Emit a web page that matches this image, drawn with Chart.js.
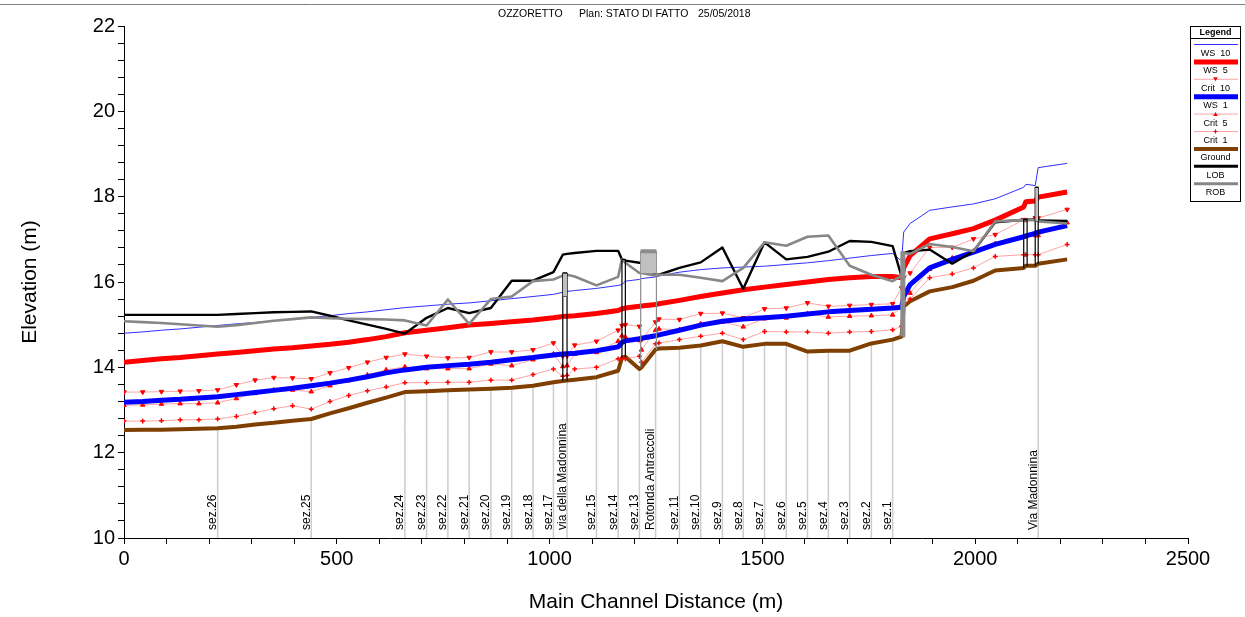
<!DOCTYPE html>
<html><head><meta charset="utf-8">
<script src="https://cdn.jsdelivr.net/npm/chart.js@4.4.0/dist/chart.umd.min.js"></script>
<style>html,body{margin:0;padding:0;background:#fff}canvas{display:block}</style>
</head><body>
<canvas id="c" width="1245" height="617" style="width:1245px;height:617px"></canvas>
<script>
const FONT = 'Arial, "Liberation Sans", Helvetica, sans-serif';

// ---- Data (main channel distance in m, elevations in m) ----
const stations = [0,44,88,132,176,220,264,308,352,396,440,484,528,572,616,660,711,761,811,862,911,961,1009,1031,1041,1059,1110,1161,1170,1178,1211,1216,1249,1257,1305,1355,1406,1455,1505,1556,1606,1655,1705,1756,1806,1827,1832,1847,1893,1946,1996,2047,2114,2119,2141,2148,2216];
const ground = [12.53,12.54,12.54,12.55,12.56,12.57,12.61,12.66,12.70,12.75,12.79,12.92,13.04,13.17,13.29,13.42,13.44,13.46,13.48,13.50,13.52,13.57,13.65,13.68,13.69,13.71,13.77,13.92,14.22,14.25,13.96,14.00,14.42,14.44,14.46,14.51,14.61,14.48,14.55,14.55,14.37,14.39,14.39,14.56,14.65,14.72,15.43,15.55,15.78,15.88,16.03,16.27,16.33,16.38,16.38,16.43,16.53];
const ws1 = [13.18,13.20,13.23,13.25,13.28,13.31,13.36,13.41,13.46,13.51,13.57,13.63,13.70,13.78,13.87,13.94,14.00,14.04,14.07,14.12,14.18,14.23,14.29,14.31,14.32,14.33,14.39,14.48,14.58,14.62,14.67,14.68,14.74,14.76,14.87,14.99,15.08,15.13,15.16,15.20,15.25,15.30,15.33,15.36,15.39,15.41,15.66,15.94,16.33,16.53,16.70,16.88,17.06,17.08,17.14,17.17,17.32];
const ws5 = [14.12,14.16,14.20,14.23,14.27,14.31,14.35,14.39,14.43,14.46,14.50,14.54,14.59,14.65,14.72,14.81,14.87,14.93,14.99,15.03,15.07,15.11,15.16,15.19,15.20,15.21,15.26,15.33,15.37,15.39,15.43,15.44,15.47,15.49,15.57,15.66,15.74,15.82,15.88,15.94,16.00,16.06,16.10,16.13,16.13,16.10,16.33,16.62,17.01,17.13,17.25,17.45,17.76,17.88,17.90,17.99,18.11];
const ws10 = [14.80,14.83,14.87,14.90,14.94,14.98,15.02,15.05,15.09,15.13,15.17,15.21,15.26,15.30,15.35,15.40,15.44,15.48,15.51,15.56,15.61,15.66,15.71,15.76,15.78,15.80,15.85,15.92,15.94,16.02,16.06,16.08,16.12,16.14,16.23,16.29,16.33,16.35,16.37,16.41,16.45,16.50,16.56,16.62,16.67,16.49,17.17,17.37,17.68,17.76,17.83,17.95,18.22,18.29,18.26,18.68,18.78];
const crit10 = [13.42,13.42,13.43,13.44,13.45,13.47,13.59,13.70,13.76,13.75,13.73,13.87,13.99,14.12,14.23,14.31,14.26,14.22,14.23,14.36,14.36,14.41,14.57,14.26,14.27,14.52,14.61,14.87,14.98,15.00,14.96,14.65,15.06,15.13,15.12,15.26,15.27,15.16,15.37,15.39,15.51,15.43,15.45,15.47,15.49,15.86,16.10,16.21,16.81,16.81,17.01,17.11,17.46,17.46,17.50,17.50,17.70];
const crit5 = [13.11,13.12,13.14,13.15,13.15,13.17,13.27,13.39,13.47,13.47,13.43,13.57,13.69,13.82,13.94,14.01,13.97,13.97,13.97,14.08,14.04,14.18,14.31,14.02,14.04,14.31,14.35,14.61,14.74,14.71,14.63,14.41,14.87,14.90,14.88,15.02,15.06,14.95,15.14,15.16,15.26,15.18,15.20,15.21,15.23,15.43,15.70,15.74,16.30,16.56,16.72,16.90,17.06,17.06,17.09,17.09,17.39];
const crit1 = [12.74,12.74,12.75,12.77,12.77,12.79,12.85,12.94,13.03,13.10,13.02,13.20,13.34,13.45,13.54,13.64,13.64,13.65,13.65,13.70,13.70,13.83,13.96,13.79,13.81,13.96,14.00,14.20,14.22,14.20,14.26,14.12,14.55,14.57,14.65,14.73,14.80,14.65,14.84,14.83,14.83,14.80,14.83,14.84,14.88,14.96,15.45,15.60,16.10,16.19,16.33,16.60,16.64,16.64,16.64,16.64,16.88];
const lob = [15.23,15.23,15.23,15.23,15.23,15.23,15.25,15.27,15.29,15.30,15.31,15.21,15.10,15.00,14.90,14.79,15.16,15.39,15.27,15.39,16.03,16.03,16.23,16.64,16.66,16.68,16.73,16.73,16.53,16.50,16.45,16.45,16.17,16.17,16.33,16.46,16.81,15.84,16.93,16.53,16.59,16.71,16.96,16.94,16.84,16.13,16.68,16.72,16.76,16.43,16.72,17.40,17.46,17.46,17.46,17.44,17.43];
const rob = [15.08,15.06,15.04,15.01,14.98,14.95,14.99,15.04,15.09,15.13,15.17,15.15,15.14,15.13,15.12,15.10,14.98,15.59,15.02,15.60,15.66,16.02,16.06,16.15,16.17,16.13,15.92,16.12,16.53,16.45,16.21,16.21,16.15,16.17,16.17,16.10,16.02,16.33,16.93,16.85,17.06,17.09,16.38,16.17,16.02,16.15,16.68,16.66,16.89,16.82,16.72,17.42,17.45,17.45,17.45,17.42,17.37];

// section labels
const sectionNames = ['sez.26','sez.25','sez.24','sez.23','sez.22','sez.21','sez.20','sez.19','sez.18','sez.17','via della Madonnina','sez.15','sez.14','sez.13','Rotonda Antraccoli','sez.11','sez.10','sez.9','sez.8','sez.7','sez.6','sez.5','sez.4','sez.3','sez.2','sez.1','Via Madonnina'];
const sectionDist = [220,440,660,711,761,811,862,911,961,1009,1041,1110,1161,1211,1249,1305,1355,1406,1455,1505,1556,1606,1655,1705,1756,1806,2148];

// structures (bridges / culverts)
const structStart = [1031,1170,1214,1827,2114,2141];
const structEnd   = [1041,1178,1251,1833,2122,2148];
const structTop   = [16.21,16.53,16.72,16.70,17.46,18.22];
const structChord = [15.66,16.53,16.21,16.70,17.46,17.42];
const structBaseL = [13.68,14.22,14.00,14.72,16.33,16.38];
const structBaseR = [13.69,14.25,14.42,14.73,16.38,16.43];

const titleParts = ['OZZORETTO','Plan: STATO DI FATTO','25/05/2018'];
const xTitle = 'Main Channel Distance (m)';
const yTitle = 'Elevation (m)';

// ---- build datasets ----
const pts = arr => stations.map((x,i)=>({x:x,y:arr[i]}));
const secLine = [];
sectionDist.forEach(d=>{
  const g = ground[stations.indexOf(d)];
  secLine.push({x:d,y:g},{x:d,y:10},{x:d,y:null});
});
const PINK = 'rgba(255,90,90,0.55)';
const datasets = [];
// structures (top)
structStart.forEach((s,i)=>{
  const e = structEnd[i];
  const isRot = i===2, isWall = i===3;
  if (structChord[i] < structTop[i]) {
    datasets.push({data:[{x:s,y:structTop[i]},{x:e,y:structTop[i]}], borderColor:isRot?'#8c8c8c':'#000', borderWidth:isRot?4:1.2,
      backgroundColor:'#c0c0c0', fill:{value:structChord[i]}, pointRadius:0, order:1, borderJoinStyle:'round'});
  }
  datasets.push({data:[{x:s,y:structBaseL[i]},{x:s,y:structTop[i]},{x:e,y:structTop[i]},{x:e,y:structBaseR[i]},{x:e,y:null},{x:s,y:structChord[i]},{x:e,y:structChord[i]}],
    borderColor:isWall?'#8c8c8c':(isRot?'#8c8c8c':'#000'), borderWidth:isWall?2.5:1.2, pointRadius:0, fill:false, spanGaps:false, order:isRot?1:2});
});
datasets.push({label:'ROB', data:pts(rob), borderColor:'#878787', borderWidth:2.6, pointRadius:0, order:3});
datasets.push({label:'LOB', data:pts(lob), borderColor:'#000', borderWidth:2.4, pointRadius:0, order:4});
datasets.push({label:'WS 10', data:pts(ws10), borderColor:'#3030ff', borderWidth:1, pointRadius:0, order:5});
datasets.push({label:'WS 5', data:pts(ws5), borderColor:'#ff0000', borderWidth:5, pointRadius:0, order:6});
datasets.push({label:'WS 1', data:pts(ws1), borderColor:'#0000ff', borderWidth:5, pointRadius:0, order:7});
datasets.push({label:'Crit 10', data:pts(crit10), borderColor:PINK, borderWidth:1, pointStyle:'triangle', rotation:180, pointRadius:2.6, pointBackgroundColor:'#ff0000', pointBorderColor:'#ff0000', pointBorderWidth:1, order:8});
datasets.push({label:'Crit 5', data:pts(crit5), borderColor:PINK, borderWidth:1, pointStyle:'triangle', pointRadius:2.6, pointBackgroundColor:'#ff0000', pointBorderColor:'#ff0000', pointBorderWidth:1, order:9});
datasets.push({label:'Crit 1', data:pts(crit1), borderColor:PINK, borderWidth:1, pointStyle:'cross', pointRadius:2.4, pointBackgroundColor:'#ff0000', pointBorderColor:'#ff0000', pointBorderWidth:1.5, order:10});
datasets.push({label:'Ground', data:pts(ground), borderColor:'#7f3f00', borderWidth:4, pointRadius:0, order:11});
datasets.push({label:'sections', data:secLine, borderColor:'#cdcdcd', borderWidth:1.5, pointRadius:0, spanGaps:false, order:12});

// ---- legend spec (drawn on canvas) ----
const legendItems = [
  {t:'WS  10', c:'#3030ff', w:1},
  {t:'WS  5', c:'#ff0000', w:5},
  {t:'Crit  10', c:PINK, w:1, m:'down'},
  {t:'WS  1', c:'#0000ff', w:5},
  {t:'Crit  5', c:PINK, w:1, m:'up'},
  {t:'Crit  1', c:PINK, w:1, m:'cross'},
  {t:'Ground', c:'#7f3f00', w:4},
  {t:'LOB', c:'#000', w:3},
  {t:'ROB', c:'#878787', w:3}
];

const deco = {
  id:'deco',
  beforeDraw(chart){
    const ctx = chart.ctx;
    ctx.save(); ctx.fillStyle='#fff'; ctx.fillRect(0,0,chart.width,chart.height); ctx.restore();
  },
  afterDatasetsDraw(chart){
    const ctx = chart.ctx, xs = chart.scales.x;
    ctx.save();
    ctx.fillStyle = '#000';
    ctx.font = '12px '+FONT;
    ctx.textAlign = 'left'; ctx.textBaseline = 'alphabetic';
    sectionNames.forEach((n,i)=>{
      const px = xs.getPixelForValue(sectionDist[i]);
      ctx.save(); ctx.translate(px-1.5, 530); ctx.rotate(-Math.PI/2);
      ctx.fillText(n, 0, 0); ctx.restore();
    });
    ctx.restore();
  },
  afterDraw(chart){
    const ctx = chart.ctx;
    ctx.save();
    // top rule
    ctx.strokeStyle = '#808080'; ctx.lineWidth = 1;
    ctx.beginPath(); ctx.moveTo(0,4.5); ctx.lineTo(chart.width,4.5); ctx.stroke();
    // title
    ctx.fillStyle = '#000'; ctx.font = '10.5px '+FONT; ctx.textBaseline='middle'; ctx.textAlign='left';
    const tx = [498,579,698];
    titleParts.forEach((t,i)=>ctx.fillText(t, tx[i], 14));
    // legend box
    const L=1190.5, R=1240.5, T=26.5, B=201.5;
    ctx.fillStyle='#fff'; ctx.fillRect(L,T,R-L,B-T);
    ctx.strokeStyle='#000'; ctx.lineWidth=1; ctx.strokeRect(L,T,R-L,B-T);
    ctx.beginPath(); ctx.moveTo(L,38.5); ctx.lineTo(R,38.5); ctx.stroke();
    ctx.fillStyle='#000'; ctx.textAlign='center';
    ctx.font='bold 9px '+FONT; ctx.fillText('Legend', (L+R)/2, 32.5);
    ctx.font='9px '+FONT;
    legendItems.forEach((it,i)=>{
      const ly = 44.5 + i*17.4;
      ctx.strokeStyle = it.c; ctx.lineWidth = it.w; ctx.lineCap='butt';
      ctx.beginPath(); ctx.moveTo(1194, ly); ctx.lineTo(1238, ly); ctx.stroke();
      if (it.m){
        ctx.fillStyle='#ff0000'; ctx.strokeStyle='#ff0000'; ctx.lineWidth=1.2;
        const cx=(L+R)/2;
        if (it.m==='down'){ctx.beginPath();ctx.moveTo(cx-2.3,ly-2);ctx.lineTo(cx+2.3,ly-2);ctx.lineTo(cx,ly+2);ctx.closePath();ctx.fill();}
        else if (it.m==='up'){ctx.beginPath();ctx.moveTo(cx-2.3,ly+2);ctx.lineTo(cx+2.3,ly+2);ctx.lineTo(cx,ly-2);ctx.closePath();ctx.fill();}
        else {ctx.beginPath();ctx.moveTo(cx-2,ly);ctx.lineTo(cx+2,ly);ctx.moveTo(cx,ly-2);ctx.lineTo(cx,ly+2);ctx.stroke();}
      }
      ctx.fillStyle='#000';
      ctx.fillText(it.t, (L+R)/2, ly+9);
    });
    ctx.restore();
  }
};

new Chart(document.getElementById('c'), {
  type:'line',
  data:{datasets:datasets},
  plugins:[deco],
  options:{
    responsive:false, animation:false, devicePixelRatio:1,
    layout:{padding:{top:26,right:57,left:0,bottom:0}},
    plugins:{legend:{display:false}, tooltip:{enabled:false}},
    elements:{line:{tension:0, borderJoinStyle:'round'}},
    scales:{
      x:{type:'linear', min:0, max:2500,
        ticks:{stepSize:100, autoSkip:false, maxRotation:0, padding:3, color:'#000', font:{family:FONT,size:20},
          callback:v=> (v%500===0 ? String(v) : '')},
        grid:{drawOnChartArea:false, drawTicks:true, tickLength:6, tickColor:'#000', tickWidth:1},
        border:{display:true, color:'#000', width:1},
        title:{display:true, text:xTitle, color:'#000', font:{family:FONT,size:21}, padding:{top:0,bottom:2}},
        afterFit:s=>{s.height=79;}
      },
      y:{type:'linear', min:10, max:22,
        ticks:{stepSize:0.4, autoSkip:false, padding:3, color:'#000', font:{family:FONT,size:20},
          callback:v=>{ const r=Math.round(v); return (Math.abs(v-r)<1e-6 && r%2===0) ? String(r) : ''; }},
        grid:{drawOnChartArea:false, drawTicks:true, tickLength:6, tickColor:'#000', tickWidth:1},
        border:{display:true, color:'#000', width:1},
        title:{display:true, text:yTitle, color:'#000', font:{family:FONT,size:21}, padding:{top:18,bottom:0}},
        afterFit:s=>{s.width=124;}
      }
    }
  }
});
</script>
</body></html>
